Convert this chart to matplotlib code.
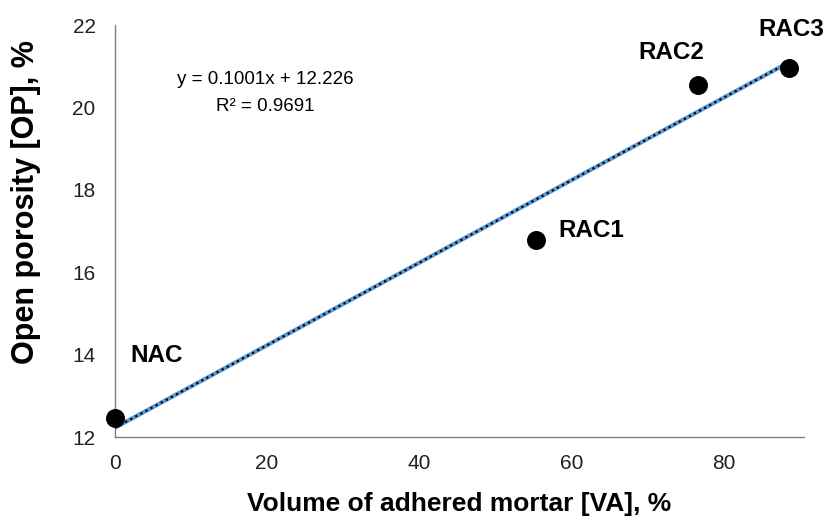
import numpy as np
import matplotlib
matplotlib.use("Agg")
import matplotlib.pyplot as plt

plt.rcParams["font.family"] = ["Liberation Sans", "DejaVu Sans"]

# adhered mortar volume vs open porosity
samples = ["NAC", "RAC1", "RAC2", "RAC3"]
va = [0.0, 55.4, 76.6, 88.6]
op = [12.46, 16.78, 20.54, 20.96]

# linear trendline y = a x + b
slope = 0.1001
intercept = 12.226
r2 = 0.9691

x_ticks = [0, 20, 40, 60, 80]
y_ticks = [12, 14, 16, 18, 20, 22]

# label offsets (pixels) relative to each point
label_offsets = [(15, 63), (22, 10), (-59, 33), (-31, 38)]

fig = plt.figure(figsize=(8.29, 5.22), dpi=100)
ax = fig.add_axes([0.1387, 0.1628, 0.8313, 0.7893])

xs = np.array([min(va), max(va)])
ax.plot(xs, slope * xs + intercept, color="#5b9bd5", lw=3.0, zorder=2)
ax.plot(xs, slope * xs + intercept, color="black", lw=1.6,
        linestyle=(0, (1, 1.6)), zorder=3)

ax.scatter(va, op, s=160, color="black", zorder=4, clip_on=False)

for name, xv, yv, off in zip(samples, va, op, label_offsets):
    ax.annotate(name, (xv, yv), xytext=off, textcoords="offset pixels",
                ha="left", va="center", fontsize=17.5, fontweight="bold")

ax.text(0.218, 0.835, f"y = {slope}x + {intercept}\nR² = {r2}",
        transform=ax.transAxes, ha="center", va="center",
        fontsize=13.5, linespacing=1.7, multialignment="center")

ax.set_xlim(0, 90.6)
ax.set_ylim(12, 22)
ax.set_xticks(x_ticks)
ax.set_yticks(y_ticks)
ax.tick_params(length=0, labelsize=15, colors="#222222")
ax.tick_params(axis="x", pad=12)
ax.tick_params(axis="y", pad=14)

for side in ("top", "right"):
    ax.spines[side].set_visible(False)
for side in ("left", "bottom"):
    ax.spines[side].set_color("#7f7f7f")
    ax.spines[side].set_linewidth(1.0)

ax.set_xlabel("Volume of adhered mortar [VA], %", fontsize=19,
              fontweight="bold", labelpad=14)
ax.set_ylabel("Open porosity [OP], %", fontsize=22, fontweight="bold")
ax.yaxis.set_label_coords(-0.108, 0.57)

fig.savefig("out.png", dpi=100)
